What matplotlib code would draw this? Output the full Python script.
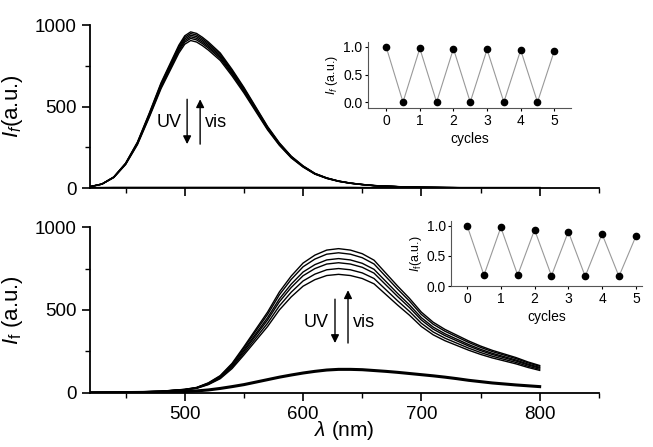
import numpy as np
import matplotlib
matplotlib.use('Agg')
import matplotlib.pyplot as plt

plt.rcParams['font.family'] = ['Liberation Sans', 'DejaVu Sans']
plt.rcParams['mathtext.fontset'] = 'custom'
plt.rcParams['mathtext.rm'] = 'Liberation Sans'
plt.rcParams['mathtext.it'] = 'Liberation Sans:italic'

# Top panel: emission spectra (open form), normalised profile + peak heights
top_wl = [420, 430, 440, 450, 460, 470, 480, 490, 495, 500, 505, 510, 515, 520, 530, 540, 550,
          560, 570, 580, 590, 600, 610, 620, 630, 640, 650, 660, 680, 700, 720, 750, 800]
top_shape = [0.010, 0.027, 0.072, 0.160, 0.295, 0.480, 0.675, 0.835, 0.915, 0.975, 1.000, 0.990,
             0.965, 0.935, 0.865, 0.760, 0.645, 0.520, 0.395, 0.290, 0.205, 0.143, 0.095, 0.066,
             0.046, 0.033, 0.024, 0.017, 0.010, 0.006, 0.004, 0.002, 0.001]
top_peaks = [958, 948, 938, 928, 918, 905]
top_uv = [2, 2, 3, 3, 3, 3, 3, 3, 3, 3, 3, 3, 3, 3, 3, 3, 3,
          3, 3, 3, 3, 3, 3, 3, 3, 3, 2, 2, 2, 2, 2, 2, 2]

# Bottom panel
bot_wl = [420, 450, 480, 500, 510, 520, 530, 540, 550, 560, 570, 580, 590, 600, 610, 620, 630,
          640, 650, 660, 670, 680, 690, 700, 710, 720, 730, 740, 750, 760, 770, 780, 790, 800]
bot_shape = [0.003, 0.005, 0.012, 0.025, 0.038, 0.070, 0.120, 0.205, 0.320, 0.440, 0.560, 0.700,
             0.810, 0.900, 0.955, 0.990, 1.000, 0.990, 0.965, 0.920, 0.830, 0.740, 0.655, 0.560,
             0.490, 0.440, 0.400, 0.360, 0.325, 0.295, 0.270, 0.245, 0.215, 0.190]
bot_peaks = [870, 845, 810, 785, 750, 715]
bot_uv = [1, 2, 4, 8, 12, 18, 27, 38, 50, 65, 80, 95, 108, 120, 130, 138, 142,
          142, 140, 135, 130, 124, 117, 110, 103, 95, 86, 76, 68, 60, 54, 48, 43, 38]

# Insets: switching cycles
cycles = [0, 0.5, 1, 1.5, 2, 2.5, 3, 3.5, 4, 4.5, 5]
top_cycle_int = [1.0, 0.0, 0.975, 0.0, 0.97, 0.0, 0.955, 0.0, 0.945, 0.0, 0.93]
bot_cycle_int = [1.0, 0.18, 0.97, 0.18, 0.93, 0.17, 0.90, 0.16, 0.86, 0.16, 0.82]

fig = plt.figure(figsize=(6.53, 4.47), dpi=100)
ax1 = fig.add_axes([0.138, 0.579, 0.779, 0.365])
ax2 = fig.add_axes([0.138, 0.121, 0.779, 0.371])


def style_main(ax):
    for s in ['top', 'right']:
        ax.spines[s].set_visible(False)
    for s in ['left', 'bottom']:
        ax.spines[s].set_linewidth(1.3)
    ax.set_xlim(420, 850)
    ax.set_ylim(0, 1000)
    ax.set_xticks([500, 600, 700, 800])
    ax.set_xticks([450, 550, 650, 750, 850], minor=True)
    ax.set_yticks([0, 500, 1000])
    ax.set_yticks([250, 750], minor=True)
    ax.tick_params(which='major', direction='out', length=6, width=1.2, labelsize=13.5)
    ax.tick_params(which='minor', direction='out', length=3.5, width=1.0)
    ax.yaxis.set_label_coords(-0.128, 0.5)


##### Top panel
for pk in top_peaks:
    ax1.plot(top_wl, np.array(top_shape) * pk, color='black', lw=1.0)
ax1.plot(top_wl, top_uv, color='black', lw=1.5)
style_main(ax1)
ax1.set_xticklabels([])
ax1.set_ylabel(r'$I_f$(a.u.)', fontsize=16)

ax1.annotate('', xy=(502, 253), xytext=(502, 562),
             arrowprops=dict(arrowstyle='-|>', color='black', lw=1.0, mutation_scale=12))
ax1.annotate('', xy=(513, 562), xytext=(513, 253),
             arrowprops=dict(arrowstyle='-|>', color='black', lw=1.0, mutation_scale=12))
ax1.text(497, 400, 'UV', ha='right', va='center', fontsize=13)
ax1.text(517, 400, 'vis', ha='left', va='center', fontsize=13)

##### Bottom panel
for pk in bot_peaks:
    ax2.plot(bot_wl, np.array(bot_shape) * pk, color='black', lw=1.0)
ax2.plot(bot_wl, bot_uv, color='black', lw=2.2)
style_main(ax2)
ax2.set_ylabel(r'$I_\mathrm{f}$ (a.u.)', fontsize=16)
ax2.set_xlabel(r'$\lambda$ (nm)', fontsize=15)
ax2.xaxis.set_label_coords(0.5, -0.16)

ax2.annotate('', xy=(627, 284), xytext=(627, 582),
             arrowprops=dict(arrowstyle='-|>', color='black', lw=1.0, mutation_scale=12))
ax2.annotate('', xy=(638, 636), xytext=(638, 284),
             arrowprops=dict(arrowstyle='-|>', color='black', lw=1.0, mutation_scale=12))
ax2.text(622, 423, 'UV', ha='right', va='center', fontsize=13)
ax2.text(642, 423, 'vis', ha='left', va='center', fontsize=13)


##### Insets
def style_inset(ax, xlim, ylim, ylab):
    for s in ['top', 'right']:
        ax.spines[s].set_visible(False)
    for s in ['left', 'bottom']:
        ax.spines[s].set_linewidth(0.8)
        ax.spines[s].set_color('#555555')
    ax.set_xlim(*xlim)
    ax.set_ylim(*ylim)
    ax.set_xticks([0, 1, 2, 3, 4, 5])
    ax.set_yticks([0.0, 0.5, 1.0])
    ax.set_yticklabels(['0.0', '0.5', '1.0'])
    ax.tick_params(direction='out', length=2, width=0.8, labelsize=10, pad=2)
    ax.set_xlabel('cycles', fontsize=10, labelpad=3)
    ax.set_ylabel(ylab, fontsize=9, labelpad=2)


in1 = fig.add_axes([0.5636, 0.758, 0.311, 0.148])
in1.plot(cycles, top_cycle_int, color='#999999', lw=0.8, marker='o', ms=4.5,
         mfc='black', mec='black')
style_inset(in1, (-0.54, 5.5), (-0.11, 1.09), r'$I_f$ (a.u.)')

in2 = fig.add_axes([0.691, 0.360, 0.292, 0.145])
in2.plot(cycles, bot_cycle_int, color='#999999', lw=0.8, marker='o', ms=4.5,
         mfc='black', mec='black')
style_inset(in2, (-0.47, 5.18), (0.0, 1.07), r'$I_\mathrm{f}$(a.u.)')

plt.savefig('out.png', dpi=100)
